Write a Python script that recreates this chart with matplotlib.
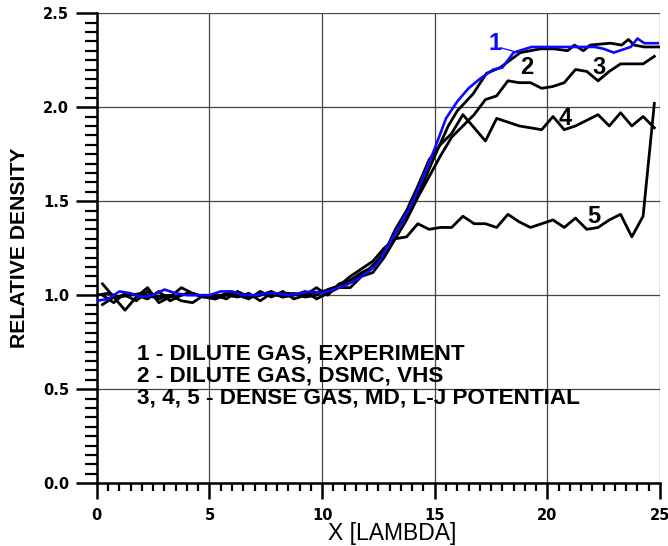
#~-=-~-=-~-=-~-=-~-=-~-=-~-=-~-=-~-=-~-=-~-=-~-=-~-=-~-=-~-=-~-=-~-=-~-=-~-=-~-=-
# relative density profiles across a shock: dilute gas vs. dense gas
#~-=-~-=-~-=-~-=-~-=-~-=-~-=-~-=-~-=-~-=-~-=-~-=-~-=-~-=-~-=-~-=-~-=-~-=-~-=-~-=-
import numpy               as np
import matplotlib
matplotlib.use('Agg')
import matplotlib.pyplot   as plt
from matplotlib.ticker     import MultipleLocator

##WWww=--  data: --=wwWW##

# 1 - dilute gas, experiment
x_exp = [0.0, 0.5, 1.0, 1.5, 2.0, 2.5, 3.0, 3.5, 4.0, 4.5, 5.0, 5.5, 6.0, 6.5,
         7.0, 7.5, 8.0, 8.5, 9.0, 9.5, 10.0, 10.5, 11.0, 11.5, 12.0, 12.5, 13.0,
         13.5, 14.0, 14.5, 15.0, 15.5, 16.0, 16.5, 17.0, 17.6, 18.0, 18.5, 19.3,
         20.0, 20.5, 21.0, 21.5, 22.1, 22.5, 22.95, 23.7, 24.0, 24.3, 24.9]
y_exp = [0.97, 0.98, 1.02, 1.01, 0.99, 1.00, 1.03, 1.01, 1.00, 1.00, 1.00, 1.02,
         1.02, 1.00, 1.00, 1.01, 1.01, 1.00, 1.01, 1.02, 1.01, 1.03, 1.05, 1.08,
         1.12, 1.17, 1.28, 1.38, 1.49, 1.63, 1.78, 1.94, 2.03, 2.10, 2.15, 2.20,
         2.21, 2.29, 2.32, 2.32, 2.32, 2.32, 2.32, 2.32, 2.31, 2.29, 2.32, 2.365,
         2.34, 2.34]

# 2 - dilute gas, DSMC, VHS
x_dsmc = [0.0, 0.5, 1.0, 1.5, 2.0, 2.5, 3.0, 3.5, 4.0, 4.5, 5.0, 5.5, 6.0, 6.5,
          7.0, 7.5, 8.0, 8.5, 9.0, 9.5, 10.0, 10.5, 11.0, 11.5, 12.0, 12.5, 13.0,
          13.5, 14.0, 14.5, 15.0, 15.6, 16.0, 16.7, 17.3, 17.9, 18.8, 19.7, 20.3,
          20.9, 21.2, 21.6, 21.9, 22.8, 23.3, 23.6, 23.85, 24.3, 24.95]
y_dsmc = [1.00, 1.01, 0.99, 1.00, 1.01, 0.99, 1.00, 0.99, 1.01, 1.00, 0.99, 1.00,
          1.01, 1.00, 0.99, 1.01, 1.00, 1.01, 1.00, 1.01, 1.02, 1.03, 1.06, 1.09,
          1.13, 1.19, 1.28, 1.38, 1.47, 1.60, 1.74, 1.90, 1.98, 2.07, 2.18, 2.21,
          2.29, 2.31, 2.31, 2.30, 2.33, 2.30, 2.33, 2.34, 2.33, 2.36, 2.33, 2.32,
          2.32]

# 3, 4, 5 - dense gas, MD, L-J potential (common abscissa)
x_md = [0.25, 0.75, 1.25, 1.75, 2.25, 2.75, 3.25, 3.75, 4.25, 4.75, 5.25, 5.75,
        6.25, 6.75, 7.25, 7.75, 8.25, 8.75, 9.25, 9.75, 10.25, 10.75, 11.25,
        11.75, 12.25, 12.75, 13.25, 13.75, 14.25, 14.75, 15.25, 15.75, 16.25,
        16.75, 17.25, 17.75, 18.25, 18.75, 19.25, 19.75, 20.25, 20.75, 21.25,
        21.75, 22.25, 22.75, 23.25, 23.75, 24.25, 24.75]
y_md3 = [0.95, 0.99, 1.00, 0.97, 1.02, 0.98, 1.00, 0.97, 0.96, 1.00, 0.98, 1.00,
         0.99, 1.01, 0.97, 1.01, 0.99, 1.00, 1.02, 0.98, 1.01, 1.04, 1.04, 1.10,
         1.12, 1.20, 1.30, 1.40, 1.52, 1.63, 1.74, 1.84, 1.90, 1.96, 2.04, 2.06,
         2.14, 2.13, 2.13, 2.10, 2.11, 2.13, 2.20, 2.19, 2.14, 2.19, 2.23, 2.23,
         2.23, 2.27]
y_md4 = [1.06, 0.99, 0.92, 0.99, 1.04, 0.96, 0.99, 1.04, 1.01, 0.99, 0.98, 1.01,
         1.00, 0.98, 1.02, 0.99, 1.02, 0.98, 1.00, 1.04, 1.00, 1.06, 1.08, 1.12,
         1.15, 1.22, 1.35, 1.45, 1.58, 1.72, 1.80, 1.86, 1.96, 1.89, 1.82, 1.94,
         1.92, 1.90, 1.89, 1.88, 1.95, 1.88, 1.90, 1.93, 1.96, 1.90, 1.97, 1.90,
         1.95, 1.89]
y_md5 = [1.00, 0.96, 1.01, 1.00, 0.98, 1.02, 0.97, 1.00, 1.01, 0.99, 1.00, 0.98,
         1.02, 0.99, 1.00, 1.02, 0.99, 1.01, 0.99, 1.00, 1.03, 1.05, 1.10, 1.14,
         1.18, 1.25, 1.30, 1.31, 1.38, 1.35, 1.36, 1.36, 1.42, 1.38, 1.38, 1.36,
         1.43, 1.39, 1.36, 1.38, 1.40, 1.36, 1.41, 1.35, 1.36, 1.40, 1.43, 1.31,
         1.42, 2.02]

legend_lines = ['1 - DILUTE GAS, EXPERIMENT',
                '2 - DILUTE GAS, DSMC, VHS',
                '3, 4, 5 - DENSE GAS, MD, L-J POTENTIAL']

#.............................................#
#---- figure:
fig = plt.figure(figsize=(6.68, 5.46), dpi=100)
ax  = fig.add_axes([0.145, 0.115, 0.843, 0.861])

blue = '#0a0aff'
ax.plot(x_md,   y_md5,  color='k', lw=2.0, zorder=3)
ax.plot(x_md,   y_md4,  color='k', lw=2.0, zorder=3)
ax.plot(x_md,   y_md3,  color='k', lw=2.0, zorder=3)
ax.plot(x_dsmc, y_dsmc, color='k', lw=2.0, zorder=3)
ax.plot(x_exp,  y_exp,  color=blue, lw=1.9, zorder=4)

# curve numbers
ax.text(17.7, 2.34, '1', color=blue, fontsize=17, fontweight='bold',
        ha='center', va='center', family='Liberation Sans')
ax.plot([17.95, 18.7], [2.315, 2.29], color=blue, lw=0.9, zorder=4)
for lbl, xx, yy in [('2', 19.1, 2.21), ('3', 22.3, 2.21),
                    ('4', 20.8, 1.94), ('5', 22.05, 1.42)]:
    ax.text(xx, yy, lbl, color='k', fontsize=17, fontweight='bold',
            ha='center', va='center', family='Liberation Sans', zorder=5)

# the legend block (plain text)
for k, line in enumerate(legend_lines):
    ax.text(1.8, 0.686 - 0.116*k, line, fontsize=16.2, fontweight='bold',
            ha='left', va='center', family='Liberation Sans', zorder=5)

#---- axes:
ax.set_xlim(0, 25)
ax.set_ylim(0, 2.5)
ax.xaxis.set_major_locator(MultipleLocator(5))
ax.xaxis.set_minor_locator(MultipleLocator(0.5))
ax.yaxis.set_major_locator(MultipleLocator(0.5))
ax.yaxis.set_minor_locator(MultipleLocator(0.05))
ax.yaxis.set_major_formatter(plt.FormatStrFormatter('%.1f'))

ax.grid(True, which='major', color='#444444', lw=0.9)
ax.set_axisbelow(True)
for s in ('top', 'right'):
    ax.spines[s].set_visible(False)
for s in ('left', 'bottom'):
    ax.spines[s].set_linewidth(1.8)

ax.tick_params(axis='y', which='major', direction='out', length=15, width=1.8,
               pad=5, labelsize=10.5)
ax.tick_params(axis='y', which='minor', direction='out', length=8.5, width=1.6)
ax.tick_params(axis='x', which='major', direction='out', length=11.5, width=1.8,
               pad=6, labelsize=10.5)
ax.tick_params(axis='x', which='minor', direction='out', length=6, width=1.6)
for t in ax.get_xticklabels() + ax.get_yticklabels():
    t.set_fontweight('bold')

ax.set_xlabel('X [LAMBDA]', fontsize=16.5, family='Liberation Sans')
ax.xaxis.set_label_coords(0.524, -0.082)
ax.set_ylabel('RELATIVE DENSITY', fontsize=15.2, fontweight='bold',
              family='Liberation Sans')
ax.yaxis.set_label_coords(-0.121, 0.5)

fig.savefig('out.png', dpi=100)
